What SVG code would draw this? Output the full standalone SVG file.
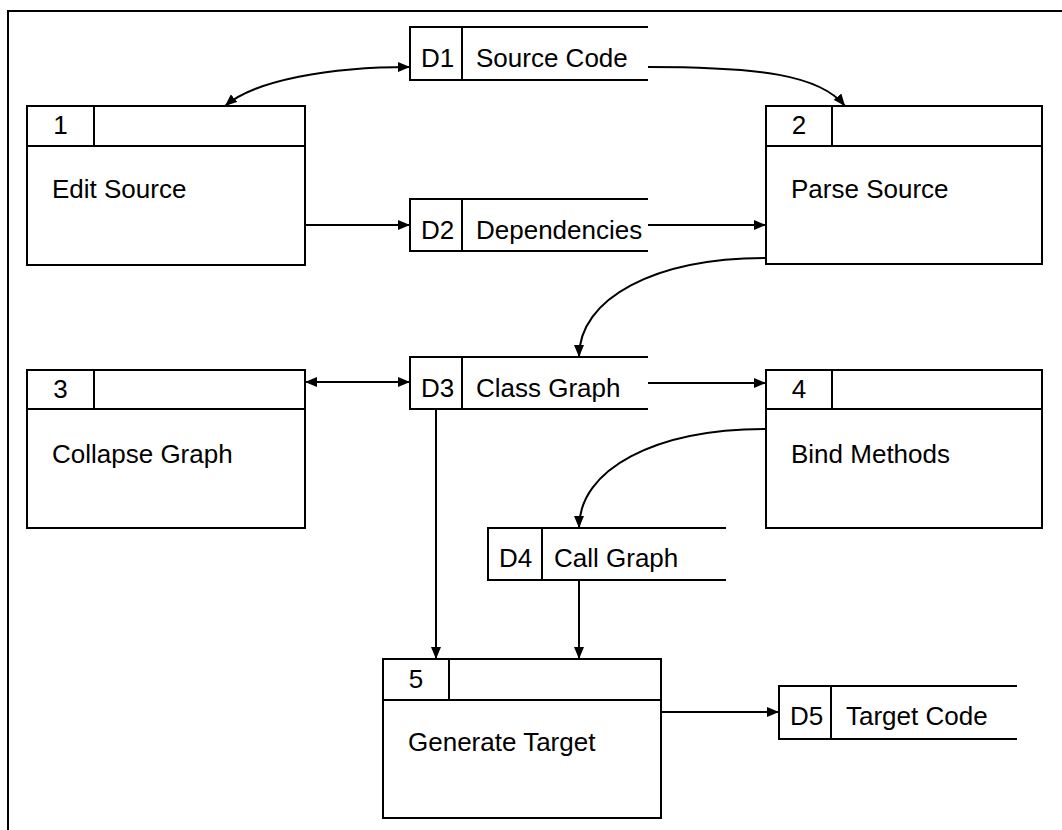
<svg xmlns="http://www.w3.org/2000/svg" width="1062" height="830" viewBox="0 0 1062 830">
<style>
.box{fill:#fff;stroke:#000;stroke-width:2}
.ln{fill:none;stroke:#000;stroke-width:2}
.t{font-family:"Liberation Sans",Arial,sans-serif;font-size:26px;fill:#000}
.c{text-anchor:middle}
</style>
<defs>
<marker id="ah" viewBox="0 0 12 10" refX="12" refY="5" markerWidth="12" markerHeight="10" markerUnits="userSpaceOnUse" orient="auto-start-reverse">
<path d="M0,0 L12,5 L0,10 z" fill="#000"/>
</marker>
</defs>
<rect width="1062" height="830" fill="#fff"/>
<path class="ln" d="M8,830 V11 H1062"/>

<g id="p1">
<rect class="box" x="27" y="106" width="278" height="159"/>
<path class="ln" d="M27,146 H305 M94,106 V146"/>
<text class="t c" x="60.5" y="134">1</text>
<text class="t" x="52" y="198">Edit Source</text>
</g>
<g id="p2">
<rect class="box" x="766" y="106" width="276" height="158"/>
<path class="ln" d="M766,146 H1042 M832,106 V146"/>
<text class="t c" x="799" y="134">2</text>
<text class="t" x="791" y="198">Parse Source</text>
</g>
<g id="p3">
<rect class="box" x="27" y="370" width="278" height="158"/>
<path class="ln" d="M27,409 H305 M94,370 V409"/>
<text class="t c" x="60.5" y="398">3</text>
<text class="t" x="52" y="463">Collapse Graph</text>
</g>
<g id="p4">
<rect class="box" x="766" y="370" width="276" height="158"/>
<path class="ln" d="M766,409 H1042 M832,370 V409"/>
<text class="t c" x="799" y="398">4</text>
<text class="t" x="791" y="463">Bind Methods</text>
</g>
<g id="p5">
<rect class="box" x="383" y="659" width="278" height="159"/>
<path class="ln" d="M383,700 H661 M449,659 V700"/>
<text class="t c" x="416" y="688">5</text>
<text class="t" x="408" y="751">Generate Target</text>
</g>

<g id="d1">
<path class="ln" d="M648,27 H410 V80 H648 M462,27 V80"/>
<text class="t" x="421" y="67">D1</text>
<text class="t" x="476" y="67">Source Code</text>
</g>
<g id="d2">
<path class="ln" d="M648,199 H410 V251 H648 M462,199 V251"/>
<text class="t" x="421" y="239">D2</text>
<text class="t" x="476" y="239">Dependencies</text>
</g>
<g id="d3">
<path class="ln" d="M648,357 H410 V409 H648 M462,357 V409"/>
<text class="t" x="421" y="397">D3</text>
<text class="t" x="476" y="397">Class Graph</text>
</g>
<g id="d4">
<path class="ln" d="M726,528 H488 V580 H726 M542,528 V580"/>
<text class="t" x="499" y="567">D4</text>
<text class="t" x="554" y="567">Call Graph</text>
</g>
<g id="d5">
<path class="ln" d="M1017,686 H779 V739 H1017 M831,686 V739"/>
<text class="t" x="790" y="725">D5</text>
<text class="t" x="846" y="725">Target Code</text>
</g>

<g id="connectors">
<path class="ln" d="M410,67 C330,67 255,80 225,106" marker-start="url(#ah)" marker-end="url(#ah)"/>
<path class="ln" d="M648,67 C760,67 820,75 845,106" marker-end="url(#ah)"/>
<path class="ln" d="M305,225 H410" marker-end="url(#ah)"/>
<path class="ln" d="M648,225 H766" marker-end="url(#ah)"/>
<path class="ln" d="M766,258 C655,258 579,298 579,357" marker-end="url(#ah)"/>
<path class="ln" d="M305,382 H410" marker-start="url(#ah)" marker-end="url(#ah)"/>
<path class="ln" d="M648,383 H766" marker-end="url(#ah)"/>
<path class="ln" d="M766,429 C655,429 579,469 579,528" marker-end="url(#ah)"/>
<path class="ln" d="M436,409 V659" marker-end="url(#ah)"/>
<path class="ln" d="M579,580 V659" marker-end="url(#ah)"/>
<path class="ln" d="M661,712 H779" marker-end="url(#ah)"/>
</g>
</svg>
